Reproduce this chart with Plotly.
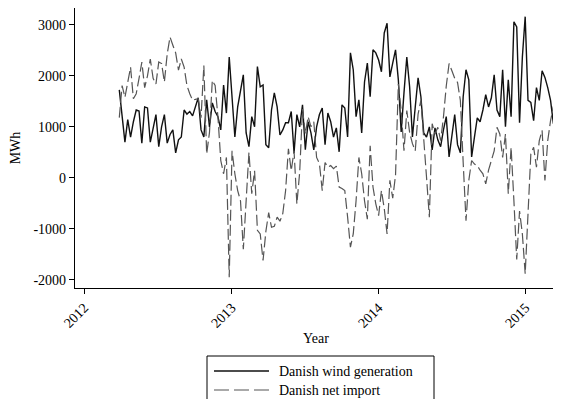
import pandas as pd
import plotly.graph_objects as go

#%% data read off the weekly series (MWh)
wind_mwh = [1725, 1250, 700, 1140, 800, 1100, 1330, 1310, 680, 1390,
            1370, 700, 950, 1240, 610, 1000, 1240, 680, 850, 940,
            490, 745, 800, 1330, 1250, 1300, 1215, 1400, 1570, 940,
            800, 1530, 1000, 1470, 1300, 1200, 940, 1820, 1270, 2370,
            1470, 800, 1390, 1700, 2020, 880, 610, 1200, 1000, 2180,
            1785, 1820, 650, 590, 1330, 1665, 1390, 840, 940, 1080,
            1080, 1300, 490, 1240, 1000, 1430, 550, 1100, 880, 550,
            1000, 1240, 1370, 650, 1270, 1100, 800, 980, 510, 1430,
            1370, 800, 2450, 2120, 1200, 1530, 880, 1880, 2250, 1590,
            2510, 2450, 2310, 2080, 2840, 3030, 1980, 2250, 2510, 1920,
            900, 1665, 2370, 1785, 800, 1390, 1960, 1590, 880, 800,
            1000, 550, 980, 745, 610, 940, 1200, 410, 880, 1240,
            650, 490, 1590, 2120, 1920, 410, 800, 1175, 1100, 1330,
            1630, 1390, 1570, 2020, 1330, 1200, 2120, 1000, 1920, 1200,
            3060, 2960, 1080, 2370, 3160, 1520, 1480, 1120, 1770, 1520,
            2100, 1970, 1770, 1520, 1060]

net_import_mwh = [1180, 1810, 1580, 1900, 2170, 1550, 1650, 1950, 2270, 1770,
                  2000, 2330, 1950, 1840, 2270, 2240, 1880, 2430, 2760, 2600,
                  2450, 2110, 2330, 2170, 1810, 1650, 1520, 1540, 1550, 1180,
                  2200, 470, 890, 1910, 1810, 1190, 340, 80, 400, -1950,
                  530, 80, -250, -450, -1400, -450, 500, -310, 140, -1030,
                  -1100, -1620, -1050, -680, -970, -950, -770, -850, -700, -250,
                  570, 140, 530, -510, 110, 1350, 860, 1200, 1000, 1100,
                  400, 280, -250, 300, 210, 240, 180, 230, -180, -210,
                  -250, -770, -1360, -1100, -450, 400, 80, -450, -810, 630,
                  -180, -510, -740, -250, -600, -1100, -50, -400, 50, 1840,
                  1320, 530, 1320, 890, 670, 530, 1250, 1520, 670, 10,
                  -770, 1060, 860, 990, 730, 1190, 1800, 2240, 2100, 1950,
                  1870, 1520, 300, -840, -50, 340, 270, 240, 150, 80,
                  -120, 150, 340, 530, 990, 860, 400, 860, -310, 600,
                  -450, -1600, -650, -1100, -1880, -600, 470, 600, 210, 730,
                  930, -50, 730, 1120, 1400]

weeks = pd.date_range('2012-03-28', periods=len(wind_mwh), freq='7D')

year_ticks = ['2012-01-01', '2013-01-01', '2014-01-01', '2015-01-01']
year_labels = ['2012', '2013', '2014', '2015']
y_ticks = [-2000, -1000, 0, 1000, 2000, 3000]
y_labels = [str(v) for v in y_ticks]

series_names = ['Danish wind generation', 'Danish net import']

#%% figure
serif = 'Liberation Serif, Times New Roman, Times, serif'
txt = dict(family=serif, size=14, color='black')
fig = go.Figure()
fig.add_trace(go.Scatter(x=weeks, y=wind_mwh, mode='lines', name=series_names[0],
                         line=dict(color='#111111', width=1.4)))
fig.add_trace(go.Scatter(x=weeks, y=net_import_mwh, mode='lines', name=series_names[1],
                         line=dict(color='#555555', width=1.2, dash='11px,4px')))

# the page body adds 8px on the left/top, so the margins are set 8px smaller
fig.update_layout(
    template='none',
    width=561, height=399,
    margin=dict(l=67, r=12, t=0, b=119, autoexpand=False),
    paper_bgcolor='white', plot_bgcolor='white',
    showlegend=False,
    font=txt,
)
fig.update_xaxes(range=['2011-12-09', '2015-03-20'], automargin=False,
                 tickvals=year_ticks, ticktext=year_labels, tickangle=-45,
                 tickfont=txt,
                 ticks='outside', ticklen=5, tickcolor='black',
                 showline=True, linecolor='black', linewidth=1.2,
                 showgrid=False, zeroline=False,
                 title=dict(text='Year', font=txt, standoff=3))
fig.update_yaxes(range=[-2160, 3330], automargin=False,
                 tickvals=y_ticks, ticktext=y_labels, tickfont=txt,
                 ticks='outside', ticklen=5, tickcolor='black',
                 showline=True, linecolor='black', linewidth=1.2,
                 showgrid=False, zeroline=False,
                 title=dict(text='MWh', font=txt, standoff=12))

#%% legend box drawn by hand (bottom, cut by the page edge like the original)
def px(x):
    return (x - 75) / 482.0

def py(y):
    return (288 - y) / 280.0

fig.add_shape(type='rect', xref='paper', yref='paper',
              x0=px(207), x1=px(434), y0=py(356), y1=py(425),
              line=dict(color='black', width=1), fillcolor='white', layer='above')
legend_rows = [(371, dict(color='#111111', width=1.4)),
               (390, dict(color='#555555', width=1.2, dash='15px,5px'))]
for (row_y, ln), name in zip(legend_rows, series_names):
    fig.add_shape(type='line', xref='paper', yref='paper',
                  x0=px(214), x1=px(269), y0=py(row_y), y1=py(row_y), line=ln)
    fig.add_annotation(text=name, xref='paper', yref='paper',
                       x=px(277), y=py(row_y), xanchor='left', yanchor='middle',
                       showarrow=False, font=txt)

fig.write_html('out.html')
